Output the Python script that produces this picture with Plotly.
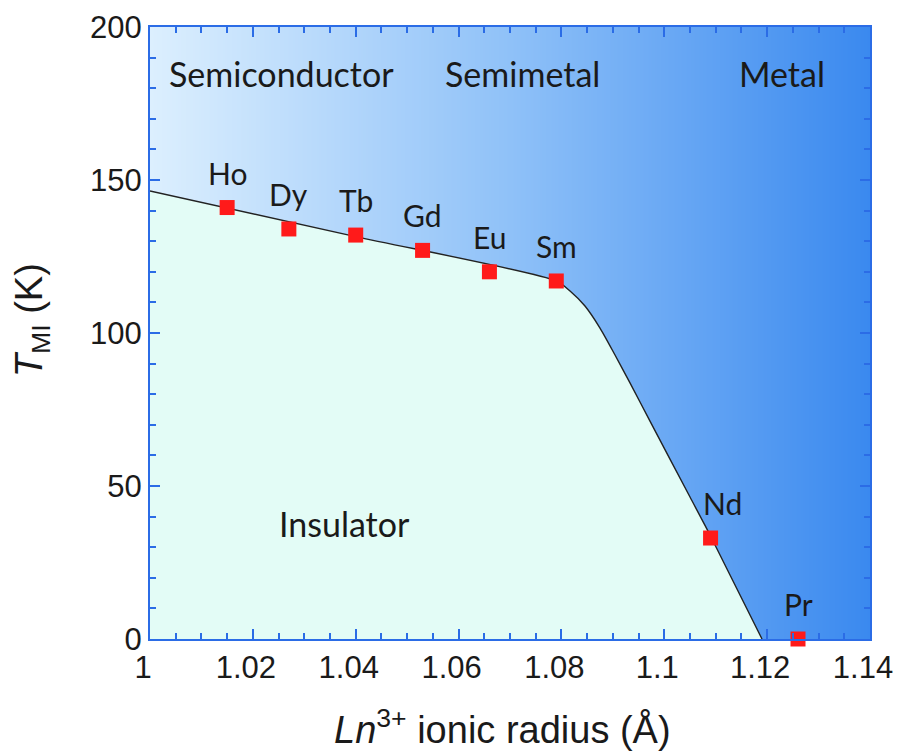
import numpy as np
import plotly.graph_objects as go

# ---- data ----
elements = ["Ho", "Dy", "Tb", "Gd", "Eu", "Sm", "Nd", "Pr"]
radius = [1.015, 1.027, 1.040, 1.053, 1.066, 1.079, 1.109, 1.126]
t_mi = [141, 134, 132, 127, 120, 117, 33, 0]

boundary_x = [1.000, 1.040, 1.079, 1.08167, 1.08458, 1.0875, 1.09042, 1.09333, 1.09722, 1.1050, 1.10889, 1.1190]
boundary_y = [146.4, 131.5, 117.0, 113.7, 108.8, 101.6, 92.8, 83.7, 71.2, 46.4, 34.0, 0.0]

regions = ["Semiconductor", "Semimetal", "Metal", "Insulator"]
region_x = [1.0255, 1.0725, 1.1229, 1.0379]
region_y = [184.8, 184.8, 184.8, 37.6]

x_ticks = [1, 1.02, 1.04, 1.06, 1.08, 1.1, 1.12, 1.14]
x_ticktext = ["1", "1.02", "1.04", "1.06", "1.08", "1.1", "1.12", "1.14"]
y_ticks = [0, 50, 100, 150, 200]

X_RANGE = [1.0, 1.1400001]
Y_RANGE = [0, 200]

fig = go.Figure()

# background gradient (decoration)
gx = np.linspace(X_RANGE[0], X_RANGE[1], 141)
fig.add_trace(go.Heatmap(
    x=gx, y=Y_RANGE, z=[list(gx), list(gx)],
    colorscale=[[0, "#dceffe"], [0.5, "#8fc1f8"], [1, "#3a89ef"]],
    showscale=False, hoverinfo="skip", zsmooth="best",
))

# insulator region
fig.add_trace(go.Scatter(
    x=boundary_x, y=boundary_y, mode="lines", fill="tozeroy",
    fillcolor="#e3fcf6", line=dict(color="#222222", width=1.4, shape="spline", smoothing=0.7),
    hoverinfo="skip", showlegend=False,
))

# data points
fig.add_trace(go.Scatter(
    x=radius, y=t_mi, mode="markers",
    marker=dict(symbol="square", size=15, color="#ff1a1a"),
    cliponaxis=False, showlegend=False,
))

label_font = dict(family="Lato, 'Open Sans', sans-serif", size=30, color="#1a1a1a")
for el, xv, yv in zip(elements, radius, t_mi):
    fig.add_annotation(x=xv, y=yv, text=el, showarrow=False, font=label_font,
                       yshift=35, xshift=12 if el == "Nd" else 0)

region_font = dict(family="Lato, 'Open Sans', sans-serif", size=34, color="#1a1a1a")
for r, xv, yv in zip(regions, region_x, region_y):
    fig.add_annotation(x=xv, y=yv, text=r, showarrow=False, font=region_font)

axis_color = "#2b6ce6"
tick_font = dict(family="Liberation Sans, Arial, sans-serif", size=31, color="#1a1a1a")
common = dict(showgrid=False, zeroline=False, showline=True, linecolor=axis_color,
              linewidth=2, mirror="ticks", ticks="inside", tickcolor=axis_color,
              tickwidth=2, ticklen=10, tickfont=tick_font, automargin=False)

fig.update_xaxes(range=X_RANGE, tickvals=x_ticks, ticktext=x_ticktext,
                 ticklabeloverflow="allow", ticklabelshift=-7,
                 minor=dict(dtick=0.005, ticklen=6, tickcolor=axis_color, tickwidth=1.5, ticks="inside"),
                 **common)
fig.update_yaxes(range=Y_RANGE, tickvals=y_ticks,
                 minor=dict(dtick=10, ticklen=6, tickcolor=axis_color, tickwidth=1.5, ticks="inside"),
                 **common)

# axis titles as annotations for precise placement
fig.add_annotation(text="<i>Ln</i><sup>3+</sup> ionic radius (Å)", xref="paper", yref="paper",
                   x=0.490, y=-0.1438, showarrow=False, xanchor="center", yanchor="middle",
                   font=dict(family="Liberation Sans, Arial, sans-serif", size=38, color="#1a1a1a"))
fig.add_annotation(text="<i>T</i><sub>MI</sub> (K)", xref="paper", yref="paper",
                   x=-0.1639, y=0.521, showarrow=False, xanchor="center", yanchor="middle",
                   textangle=-90,
                   font=dict(family="Liberation Sans, Arial, sans-serif", size=38, color="#1a1a1a"))

fig.update_layout(
    width=898, height=754,
    margin=dict(l=150, r=28, t=27, b=115, autoexpand=False),
    paper_bgcolor="white", plot_bgcolor="white",
    showlegend=False,
)

fig.write_html("out.html", config={"displayModeBar": False},
               post_script="document.body.style.margin='0';document.body.style.overflow='hidden';")
